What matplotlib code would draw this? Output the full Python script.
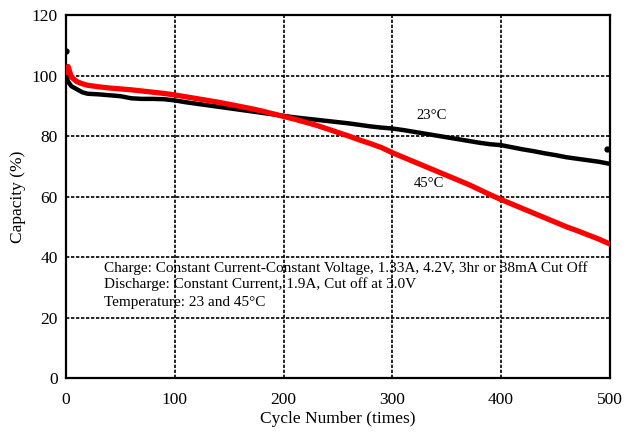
import matplotlib
matplotlib.use("Agg")
import matplotlib.pyplot as plt

plt.rcParams['font.family'] = ['Liberation Serif', 'DejaVu Serif']

cycles = [0, 2, 5, 10, 15, 20, 30, 40, 50, 60, 70, 80, 90, 100, 110, 120, 130, 140, 150,
          160, 170, 180, 190, 200, 210, 220, 230, 240, 250, 260, 270, 280, 290, 300,
          310, 320, 330, 340, 350, 360, 370, 380, 390, 400, 410, 420, 430, 440, 450,
          460, 470, 480, 490, 500]

cap_23 = [100, 98, 96.5, 95.5, 94.5, 94, 93.8, 93.5, 93.2, 92.5, 92.3, 92.3, 92.2, 91.8,
          91.2, 90.7, 90.2, 89.7, 89.2, 88.7, 88.2, 87.7, 87.2, 86.7, 86.2, 85.8, 85.4,
          85.0, 84.6, 84.2, 83.7, 83.2, 82.8, 82.5, 82.0, 81.4, 80.8, 80.2, 79.6, 79.0,
          78.4, 77.8, 77.3, 77.0, 76.3, 75.6, 75.0, 74.3, 73.7, 73.0, 72.5, 72.0, 71.5, 70.8]

cap_45 = [101, 103, 99.5, 98, 97.3, 96.8, 96.3, 95.9, 95.6, 95.3, 94.9, 94.5, 94.1, 93.6,
          93.0, 92.4, 91.8, 91.2, 90.5, 89.8, 89.1, 88.3, 87.4, 86.5, 85.6, 84.6, 83.6,
          82.4, 81.2, 80.0, 78.7, 77.5, 76.2, 74.5, 73.0, 71.5, 70.0, 68.5, 67.0, 65.5,
          64.0, 62.3, 60.6, 59.0, 57.5, 56.0, 54.5, 53.0, 51.5, 50.0, 48.7, 47.3, 45.9, 44.3]

outlier_x = [0, 497]
outlier_y = [108, 75.7]

notes = ["Charge: Constant Current-Constant Voltage, 1.33A, 4.2V, 3hr or 38mA Cut Off",
         "Discharge: Constant Current, 1.9A, Cut off at 3.0V",
         "Temperature: 23 and 45\u00b0C"]

fig = plt.figure(figsize=(6.4, 4.32), dpi=100)
ax = fig.add_axes([0.103, 0.125, 0.850, 0.840])

ax.plot(cycles, cap_23, color='black', lw=3.2, solid_capstyle='round', zorder=3)
ax.plot(cycles, cap_45, color='red', lw=3.8, solid_capstyle='round', zorder=4)
ax.plot(outlier_x, outlier_y, 'o', color='black', ms=3.5, zorder=3, linestyle='none')

ax.set_xlim(0, 500)
ax.set_ylim(0, 120)
ax.set_xticks(range(0, 501, 100))
ax.set_yticks(range(0, 121, 20))
ax.grid(True, color='black', linestyle=(0, (2, 1)), linewidth=1.2)
ax.set_axisbelow(True)
for s in ax.spines.values():
    s.set_linewidth(1.6)
ax.tick_params(length=0, labelsize=12.5)
ax.tick_params(axis='x', pad=10)
ax.tick_params(axis='y', pad=6)

ax.set_xlabel("Cycle Number (times)", fontsize=12.5, labelpad=2)
ax.set_ylabel("Capacity (%)", fontsize=12.5, labelpad=4)

ax.text(322, 85.5, "23\u00b0C", fontsize=10.5)
ax.text(320, 63.0, "45\u00b0C", fontsize=10.5)

for t, yv in zip(notes, [35.0, 29.8, 23.8]):
    ax.text(35, yv, t, fontsize=11)

fig.savefig("out.png", dpi=100)
